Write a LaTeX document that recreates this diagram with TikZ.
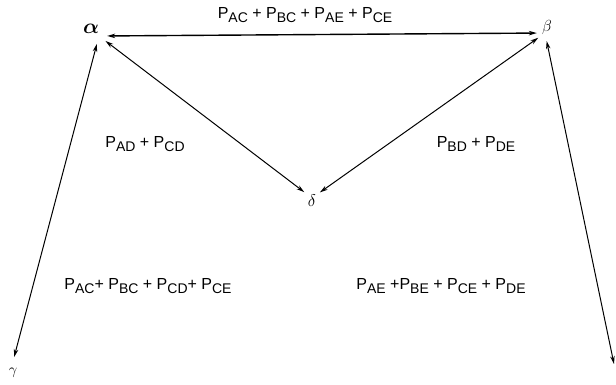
\documentclass[tikz,border=0pt]{standalone}
\usepackage{fix-cm}
\usepackage{bm}
\usepackage{fontspec}
\setmainfont{Liberation Sans}
\usetikzlibrary{arrows.meta}
\newcommand{\prob}[1]{P\raisebox{-4.5pt}{\fontsize{14}{14}\selectfont #1}}
\begin{document}
\begin{tikzpicture}[x=1pt, y=-1pt,
  vertex/.style={circle, minimum size=16pt, inner sep=0pt},
  greek/.style={inner sep=0pt},
  sum/.style={inner sep=0pt, font=\fontsize{16}{16}\selectfont},
  link/.style={{Stealth[length=8pt,width=4.5pt]}-{Stealth[length=8pt,width=4.5pt]}, line width=1pt}]
\useasboundingbox (0,0) rectangle (616,384);
\node[vertex, label={[greek, xshift=-8pt, yshift=7pt, font=\fontsize{21}{21}\selectfont]center:$\bm{\alpha}$}] (alpha) at (99,36) {};
\node[vertex, label={[greek, xshift=2pt, yshift=6pt, font=\fontsize{16}{16}\selectfont]center:$\beta$}] (beta) at (545,33) {};
\node[vertex, label={[greek, xshift=1pt, yshift=-8pt, font=\fontsize{15}{15}\selectfont]center:$\gamma$}] (gamma) at (12,365) {};
\node[vertex, minimum size=19pt, label={[greek, yshift=-3pt, font=\fontsize{17}{17}\selectfont]center:$\delta$}] (delta) at (312,198) {};
\coordinate (eps) at (614,364);
\node[sum] (ab) at (305,15) {\prob{AC} + \prob{BC} + \prob{AE} + \prob{CE}};
\node[sum] (ad) at (145,144) {\prob{AD} + \prob{CD}};
\node[sum] (bd) at (476,144) {\prob{BD} + \prob{DE}};
\node[sum] (ag) at (148,286) {\prob{AC}+ \prob{BC} + \prob{CD}+ \prob{CE}};
\node[sum] (be) at (441,286) {\prob{AE} +\prob{BE} + \prob{CE} + \prob{DE}};
\draw[link, line width=1.4pt] (alpha) -- (beta);
\draw[link] (alpha) -- (gamma);
\draw[link] (alpha) -- (delta);
\draw[link] (beta) -- (delta);
\draw[link] (beta) -- (eps);
\end{tikzpicture}
\end{document}
